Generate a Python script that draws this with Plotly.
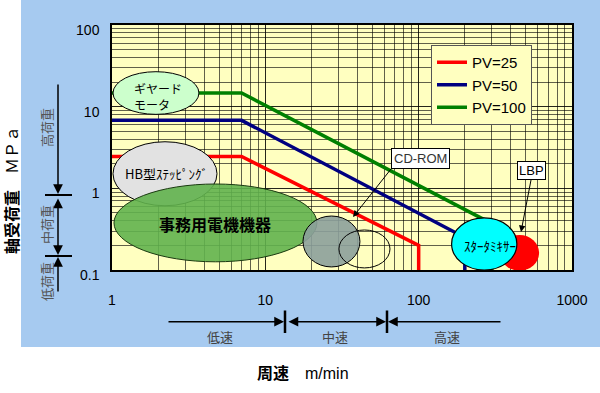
import plotly.graph_objects as go
import math

# ---------------- data ----------------
speed_pv25 = [1, 7, 100, 100]
load_pv25 = [2.45, 2.45, 0.2, 0.1]
speed_pv50 = [1, 7, 200, 200]
load_pv50 = [6.8, 6.8, 0.25, 0.1]
speed_pv100 = [1, 7, 300, 300]
load_pv100 = [14.7, 14.7, 0.37, 0.1]
series_names = ["PV=25", "PV=50", "PV=100"]
series_colors = ["#FF0000", "#000080", "#008000"]

x_tick_vals = [1, 10, 100, 1000]
x_tick_text = ["1", "10", "100", "1000"]
y_tick_vals = [0.1, 1, 10, 100]
y_tick_text = ["0.1", "1", "10", "100"]

# application regions (ellipse extents in speed m/min and load MPa)
region_names = ["HB", "office", "gear", "cdrom", "cdrom2", "lbp", "mixer"]
region_speed_lo = [1.015, 1.03, 1.015, 17.6, 30.2, 339, 164]
region_speed_hi = [4.84, 21.7, 3.69, 41.4, 65.0, 610, 437]
region_load_lo = [0.612, 0.126, 8.05, 0.109, 0.106, 0.098, 0.1]
region_load_hi = [3.72, 1.13, 26.8, 0.458, 0.309, 0.269, 0.434]

region_text = ["ギヤード<br>モータ", "HB型ｽﾃｯﾋﾟﾝｸﾞ", "<b>事務用電機機器</b>", "ｽﾀｰﾀﾐｷｻｰ"]
region_text_speed = [1.35, 2.25, 4.7, 292]
region_text_load = [13.5, 1.5, 0.366, 0.202]

speed_classes = ["低速", "中速", "高速"]
load_classes = ["高荷重", "中荷重", "低荷重"]

# ---------------- styles / layout helpers ----------------
FONT = "Liberation Sans, Arial, Noto Sans CJK JP, sans-serif"
CJK = "Noto Sans CJK JP, sans-serif"
BLUE = "#A6CAF0"
YELLOW = "#FFFFC0"
GRID = "rgba(0,0,0,0.62)"

L, T, W, H = 112, 25, 460, 245
def px(x):
    return (x - L) / W
def py(y):
    return (T + H - y) / H

fig = go.Figure()
for xs, ys, nm, col in zip([speed_pv25, speed_pv50, speed_pv100],
                           [load_pv25, load_pv50, load_pv100],
                           series_names, series_colors):
    fig.add_trace(go.Scatter(x=xs, y=ys, mode="lines", name=nm,
                             line=dict(color=col, width=3.5)))

shapes = []
# white strips outside the blue chart area
shapes.append(dict(type="rect", xref="paper", yref="paper", layer="below",
                   x0=px(-5), x1=px(21), y0=py(400), y1=py(-5),
                   fillcolor="white", line=dict(width=0)))
shapes.append(dict(type="rect", xref="paper", yref="paper", layer="below",
                   x0=px(-5), x1=px(605), y0=py(400), y1=py(347),
                   fillcolor="white", line=dict(width=0)))

styles = {
    "HB": dict(fillcolor="#E2E2E2", line=dict(color="#000", width=1)),
    "office": dict(fillcolor="rgba(98,178,78,0.9)", line=dict(color="#1a3a10", width=1)),
    "gear": dict(fillcolor="#CCFFCC", line=dict(color="#000", width=1)),
    "cdrom": dict(fillcolor="rgba(140,160,155,0.9)", line=dict(color="#000", width=1)),
    "cdrom2": dict(fillcolor="rgba(0,0,0,0)", line=dict(color="#000", width=1)),
    "lbp": dict(fillcolor="#FF0000", line=dict(color="#FF0000", width=0)),
    "mixer": dict(fillcolor="#00FFFF", line=dict(color="#000", width=1.2)),
}
for nm, x0, x1, y0, y1 in zip(region_names, region_speed_lo, region_speed_hi,
                              region_load_lo, region_load_hi):
    shapes.append(dict(type="circle", xref="x", yref="y", layer="above",
                       x0=x0, x1=x1, y0=y0, y1=y1, **styles[nm]))

# vertical bars of bottom speed scale
for xb in [285, 387]:
    shapes.append(dict(type="line", xref="paper", yref="paper",
                       x0=px(xb), x1=px(xb), y0=py(310.5), y1=py(333),
                       line=dict(color="#000", width=2.5)))
# horizontal bars of left load scale
for yb in [195, 256]:
    shapes.append(dict(type="line", xref="paper", yref="paper",
                       x0=px(45), x1=px(72), y0=py(yb), y1=py(yb),
                       line=dict(color="#000", width=2)))

ann = []
# region texts (annotations on log axes take log10 positions)
aligns = ["left", "center", "center", "center"]
sizes = [12, 13, 16, 13]
for t, sx, sy, al, fs in zip(region_text, region_text_speed, region_text_load, aligns, sizes):
    ann.append(dict(x=math.log10(sx), y=math.log10(sy), xref="x", yref="y",
                    text=t, showarrow=False, xanchor=al, yanchor="middle", align="left",
                    font=dict(family=CJK, size=fs, color="#000")))

# callouts
ann.append(dict(x=px(353), y=py(217), xref="paper", yref="paper", text="CD-ROM",
                showarrow=True, ax=38, ay=-48, xanchor="left", yanchor="bottom",
                arrowhead=2, arrowsize=1.3, arrowwidth=1, arrowcolor="#000",
                bgcolor="white", bordercolor="#000", borderwidth=1, borderpad=2,
                font=dict(family=FONT, size=13, color="#333")))
ann.append(dict(x=px(521), y=py(232), xref="paper", yref="paper", text="LBP",
                showarrow=True, ax=10, ay=-52, xanchor="center", yanchor="bottom",
                arrowhead=2, arrowsize=1.3, arrowwidth=1, arrowcolor="#000",
                bgcolor="white", bordercolor="#000", borderwidth=1, borderpad=1,
                font=dict(family=FONT, size=13, color="#000")))

# bottom speed-class arrows
arrow_common = dict(xref="paper", yref="paper", text="", showarrow=True,
                    arrowhead=2, arrowsize=1.3, arrowwidth=1.5, arrowcolor="#000")
ann.append(dict(x=px(284), y=py(321.7), ax=167 - 284, ay=0, **arrow_common))
ann.append(dict(x=px(386), y=py(321.7), ax=287 - 386, ay=0, arrowside="end+start",
                startarrowhead=2, startarrowsize=1.3, **arrow_common))
ann.append(dict(x=px(388), y=py(321.7), ax=502 - 388, ay=0, **arrow_common))
for t, xc in zip(speed_classes, [220, 335, 447]):
    ann.append(dict(x=px(xc), y=py(336), xref="paper", yref="paper", text=t,
                    xanchor="center", yanchor="middle", showarrow=False,
                    font=dict(family=CJK, size=13, color="#444")))

# left load-class arrows
ann.append(dict(x=px(58), y=py(194), ax=0, ay=83 - 194, **arrow_common))
ann.append(dict(x=px(58), y=py(255), ax=0, ay=197 - 255, arrowside="end+start",
                startarrowhead=2, startarrowsize=1.3, **arrow_common))
ann.append(dict(x=px(58), y=py(257), ax=0, ay=293 - 257, **arrow_common))
for t, yc in zip(load_classes, [128, 225, 282]):
    ann.append(dict(x=px(46), y=py(yc), xref="paper", yref="paper", text=t,
                    textangle=-90, xanchor="center", yanchor="middle", showarrow=False,
                    font=dict(family=CJK, size=13, color="#555")))

# axis titles
ann.append(dict(x=px(303), y=py(373), xref="paper", yref="paper",
                text="<b>周速</b>　m/min", showarrow=False,
                xanchor="center", yanchor="middle",
                font=dict(family=FONT, size=16, color="#000")))
ann.append(dict(x=px(11), y=py(190), xref="paper", yref="paper",
                text="<b>軸受荷重</b>　ＭＰａ", textangle=-90, showarrow=False,
                xanchor="center", yanchor="middle",
                font=dict(family=CJK, size=16, color="#000")))

fig.update_layout(
    width=600, height=393, autosize=False,
    margin=dict(l=L, r=600 - L - W, t=T, b=393 - T - H, pad=0),
    paper_bgcolor=BLUE, plot_bgcolor=YELLOW,
    font=dict(family=FONT, size=14, color="#000"),
    shapes=shapes, annotations=ann,
    showlegend=True,
    legend=dict(x=px(431), y=py(45), xanchor="left", yanchor="top",
                bgcolor=YELLOW, bordercolor="#555", borderwidth=1,
                font=dict(family=FONT, size=15, color="#000"),
                itemwidth=30, tracegroupgap=0),
)
fig.update_xaxes(type="log", range=[0, 3], tickvals=x_tick_vals, ticktext=x_tick_text,
                 showgrid=True, gridcolor=GRID, gridwidth=1, zeroline=False,
                 showline=True, linecolor="#000", linewidth=1.5, mirror=True,
                 ticks="", ticklabelstandoff=16,
                 minor=dict(dtick="D1", showgrid=True, gridcolor=GRID, gridwidth=1),
                 tickfont=dict(family=FONT, size=14, color="#000"))
fig.update_yaxes(type="log", range=[-1, 2], tickvals=y_tick_vals, ticktext=y_tick_text,
                 showgrid=True, gridcolor=GRID, gridwidth=1, zeroline=False,
                 showline=True, linecolor="#000", linewidth=1.5, mirror=True,
                 ticks="", ticklabelstandoff=8, ticklabelshift=5,
                 minor=dict(dtick="D1", showgrid=True, gridcolor=GRID, gridwidth=1),
                 tickfont=dict(family=FONT, size=14, color="#000"))

fig.write_html("out.html", config={"displayModeBar": False},
               post_script="document.body.style.margin='0';document.body.style.overflow='hidden';")
